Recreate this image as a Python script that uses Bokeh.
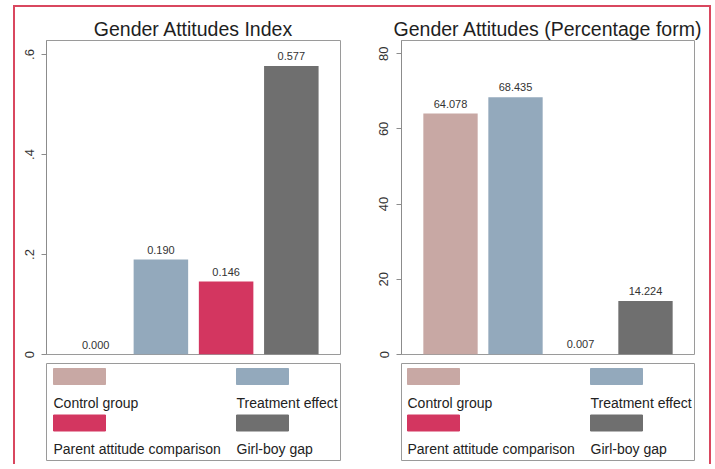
from bokeh.plotting import figure
from bokeh.models import Range1d, FixedTicker, ColumnDataSource
from bokeh.layouts import row, column
from bokeh.embed import file_html
from bokeh.resources import INLINE
from bokeh.core.properties import value

categories = ["Control group", "Treatment effect", "Parent attitude comparison", "Girl-boy gap"]
bar_colors = ["#c8a8a4", "#93a9bc", "#d33660", "#6f6f6f"]
index_values = [0.000, 0.190, 0.146, 0.577]
pct_values = [64.078, 68.435, 0.007, 14.224]
index_ticks = [0, 0.2, 0.4, 0.6]
index_tick_labels = ["0", ".2", ".4", ".6"]
pct_ticks = [0, 20, 40, 60, 80]
pct_tick_labels = ["0", "20", "40", "60", "80"]

FONT = "Liberation Sans"


def panel(title, vals, ticks, tick_labels, ymax, bl, fw, br):
    src = ColumnDataSource(dict(
        x=list(range(1, len(vals) + 1)),
        top=vals,
        color=bar_colors,
        label=["%.3f" % v for v in vals],
    ))
    p = figure(width=bl + fw + br, height=33 + 314 + 4, output_backend="svg",
               toolbar_location=None, x_range=Range1d(0.246, 4.754),
               y_range=Range1d(0, ymax), min_border_left=bl, min_border_right=br,
               min_border_top=33, min_border_bottom=4, title=title)
    p.vbar(x="x", top="top", width=0.836, bottom=0, source=src,
           fill_color="color", line_color=None)
    p.text(x="x", y="top", text="label", source=src, text_align="center",
           text_baseline="bottom", y_offset=-6, text_font=value(FONT),
           text_font_size="11px", text_color="#333333")
    p.title.text_font = FONT
    p.title.text_font_size = "19.5px"
    p.title.text_font_style = "normal"
    p.title.text_color = "#1e1e1e"
    p.title.align = "center"
    p.title.standoff = 2
    p.xaxis.visible = False
    p.xgrid.visible = False
    p.ygrid.visible = False
    ax = p.yaxis[0]
    ax.ticker = FixedTicker(ticks=ticks)
    ax.major_label_overrides = {t: l for t, l in zip(ticks, tick_labels)}
    ax.major_label_orientation = "vertical"
    ax.major_label_text_font = FONT
    ax.major_label_text_font_size = "13px"
    ax.major_label_text_color = "#333333"
    ax.major_label_standoff = 8
    ax.major_tick_out = 5
    ax.major_tick_in = 0
    ax.minor_tick_line_color = None
    ax.major_tick_line_color = "#8c8c8c"
    ax.axis_line_color = "#8c8c8c"
    p.outline_line_color = "#9a9a9a"
    p.outline_line_width = 1
    p.background_fill_color = "white"
    p.border_fill_color = "white"
    return p


def legend_fig(bl, fw, br, offs):
    p = figure(width=bl + fw + br, height=5 + 97 + 4, output_backend="svg",
               toolbar_location=None, x_range=Range1d(0, fw), y_range=Range1d(97, 0),
               min_border_left=bl, min_border_right=br, min_border_top=5,
               min_border_bottom=4)
    p.axis.visible = False
    p.grid.visible = False
    p.outline_line_color = "#9a9a9a"
    xs = [offs[0], offs[1], offs[0], offs[1]]
    sy = [13, 13, 59.5, 59.5]
    ty = [39, 39, 85, 85]
    src = ColumnDataSource(dict(x=[x + 26 for x in xs], y=sy, tx=xs, ty=ty,
                                color=bar_colors, name=categories))
    p.rect(x="x", y="y", width=52, height=16, source=src,
           fill_color="color", line_color="color")
    p.text(x="tx", y="ty", text="name", source=src, text_align="left",
           text_baseline="middle", text_font=value(FONT), text_font_size="14px",
           text_color="#222222")
    return p


p1 = panel("Gender Attitudes Index", index_values, index_ticks, index_tick_labels,
           0.628, 27, 302, 26)
p2 = panel("Gender Attitudes (Percentage form)", pct_values, pct_ticks, pct_tick_labels,
           83.5, 26, 303, 10)
l1 = legend_fig(31, 294, 30, (7, 190))
l2 = legend_fig(31, 293, 15, (6, 189))

layout = row(column(p1, l1), column(p2, l2),
             styles={"margin-left": "13px", "margin-top": "5px",
                     "border-top": "2px solid #d9475f",
                     "border-left": "2px solid #d9475f",
                     "border-right": "2px solid #d9475f"})

open("out.html", "w").write(file_html(layout, INLINE))
